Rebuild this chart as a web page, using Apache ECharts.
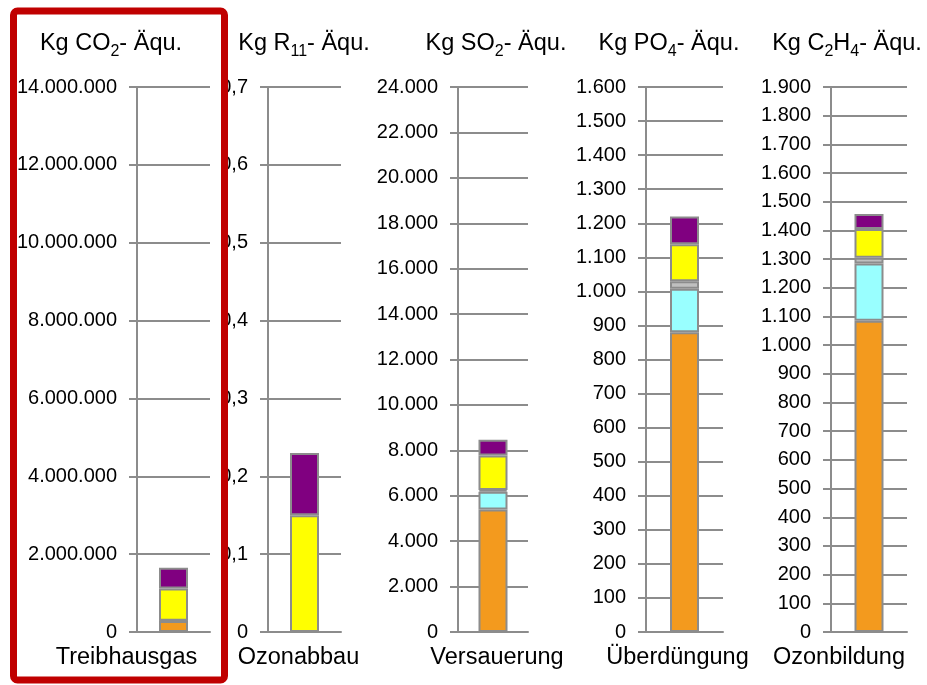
<!DOCTYPE html>
<html><head><meta charset="utf-8">
<script src="https://cdn.jsdelivr.net/npm/echarts@6/dist/echarts.min.js"></script>
<style>html,body{margin:0;padding:0;background:#fff}#c{width:927px;height:685px}</style>
</head><body><div id="c"></div>
<script>
// ---- data ----
var categories = ['Treibhausgas', 'Ozonabbau', 'Versauerung', 'Überdüngung', 'Ozonbildung'];
var orangeVals = [280000, 0, 5400, 880, 1085];
var cyanVals   = [0, 0, 780, 128, 200];
var grayVals   = [10000, 0, 70, 22, 20];
var yellowVals = [830000, 0.15, 1520, 108, 100];
var purpleVals = [530000, 0.08, 700, 82, 52];
var axisMax      = [14000000, 0.7, 24000, 1600, 1900];
var axisInterval = [2000000, 0.1, 2000, 100, 100];

// ---- layout / style ----
var gridLeft  = [137, 268, 458, 646, 831];
var gridRight = [210, 341, 528, 723, 907];
var titleX = [111, 304, 496, 669, 847];
var labelShift = [-47, -6, 4, -7, -30];
var FONT = "'Liberation Sans', Arial, sans-serif";
var LINE = '#8c8c8c';
var seriesDefs = [
  {name: 'a', vals: orangeVals, color: '#F39A1E'},
  {name: 'b', vals: cyanVals,   color: '#99FFFF'},
  {name: 'c', vals: grayVals,   color: '#C0C0C0'},
  {name: 'd', vals: yellowVals, color: '#FFFF00'},
  {name: 'e', vals: purpleVals, color: '#800080'}
];

function fmt(v, i) {
  if (i === 1) { return v === 0 ? '0' : (Math.round(v * 10) / 10).toFixed(1).replace('.', ','); }
  var s = String(Math.round(v));
  return s.replace(/\B(?=(\d{3})+(?!\d))/g, '.');
}

var grids = [], xAxes = [], yAxes = [], series = [];
for (var i = 0; i < 5; i++) {
  grids.push({left: gridLeft[i], width: gridRight[i] - gridLeft[i], top: 87, height: 545, containLabel: false});
  var sh = labelShift[i];
  xAxes.push({
    type: 'category', gridIndex: i, data: [categories[i]],
    axisLine: {show: true, lineStyle: {color: LINE, width: 2}},
    axisTick: {show: false},
    axisLabel: {color: '#000', fontFamily: FONT, fontSize: 23.5, margin: 14,
      padding: sh < 0 ? [0, -2 * sh, 0, 0] : [0, 0, 0, 2 * sh]}
  });
  yAxes.push({
    type: 'value', gridIndex: i, min: 0, max: axisMax[i], interval: axisInterval[i],
    axisLine: {show: true, lineStyle: {color: LINE, width: 2}},
    axisTick: {show: true, length: 8, lineStyle: {color: LINE, width: 2}},
    splitLine: {show: true, lineStyle: {color: LINE, width: 2}},
    axisLabel: {color: '#000', fontFamily: FONT, fontSize: 20, margin: 20,
      formatter: (function (k) { return function (v) { return fmt(v, k); }; })(i)}
  });
  seriesDefs.forEach(function (d) {
    var v = d.vals[i];
    series.push({
      type: 'bar', name: d.name, stack: 's' + i, xAxisIndex: i, yAxisIndex: i,
      barWidth: 29, data: [v === 0 ? null : v],
      itemStyle: {color: d.color, borderColor: LINE, borderWidth: 2},
      animation: false
    });
  });
}

var titleTexts = [
  '{n|Kg CO}{s|2}{n|- Äqu.}',
  '{n|Kg R}{s|11}{n|- Äqu.}',
  '{n|Kg SO}{s|2}{n|- Äqu.}',
  '{n|Kg PO}{s|4}{n|- Äqu.}',
  '{n|Kg C}{s|2}{n|H}{s|4}{n|- Äqu.}'
];
var graphics = titleTexts.map(function (t, i) {
  return {
    type: 'text', x: titleX[i], y: 44, z: 10,
    style: {
      text: t, align: 'center', verticalAlign: 'middle', fill: '#000',
      rich: {
        n: {fontFamily: FONT, fontSize: 23.5, fill: '#000', lineHeight: 28, verticalAlign: 'middle'},
        s: {fontFamily: FONT, fontSize: 16, fill: '#000', lineHeight: 28, padding: [16, 0, 0, 0], verticalAlign: 'middle'}
      }
    }
  };
});
graphics.push({
  type: 'rect', z: 100, silent: true,
  shape: {x: 13.5, y: 11, width: 211, height: 669, r: 4},
  style: {fill: 'none', stroke: '#C00000', lineWidth: 7}
});

var chart = echarts.init(document.getElementById('c'), null, {renderer: 'canvas'});
chart.setOption({
  animation: false,
  backgroundColor: '#fff',
  grid: grids, xAxis: xAxes, yAxis: yAxes, series: series,
  graphic: graphics
});
</script></body></html>
